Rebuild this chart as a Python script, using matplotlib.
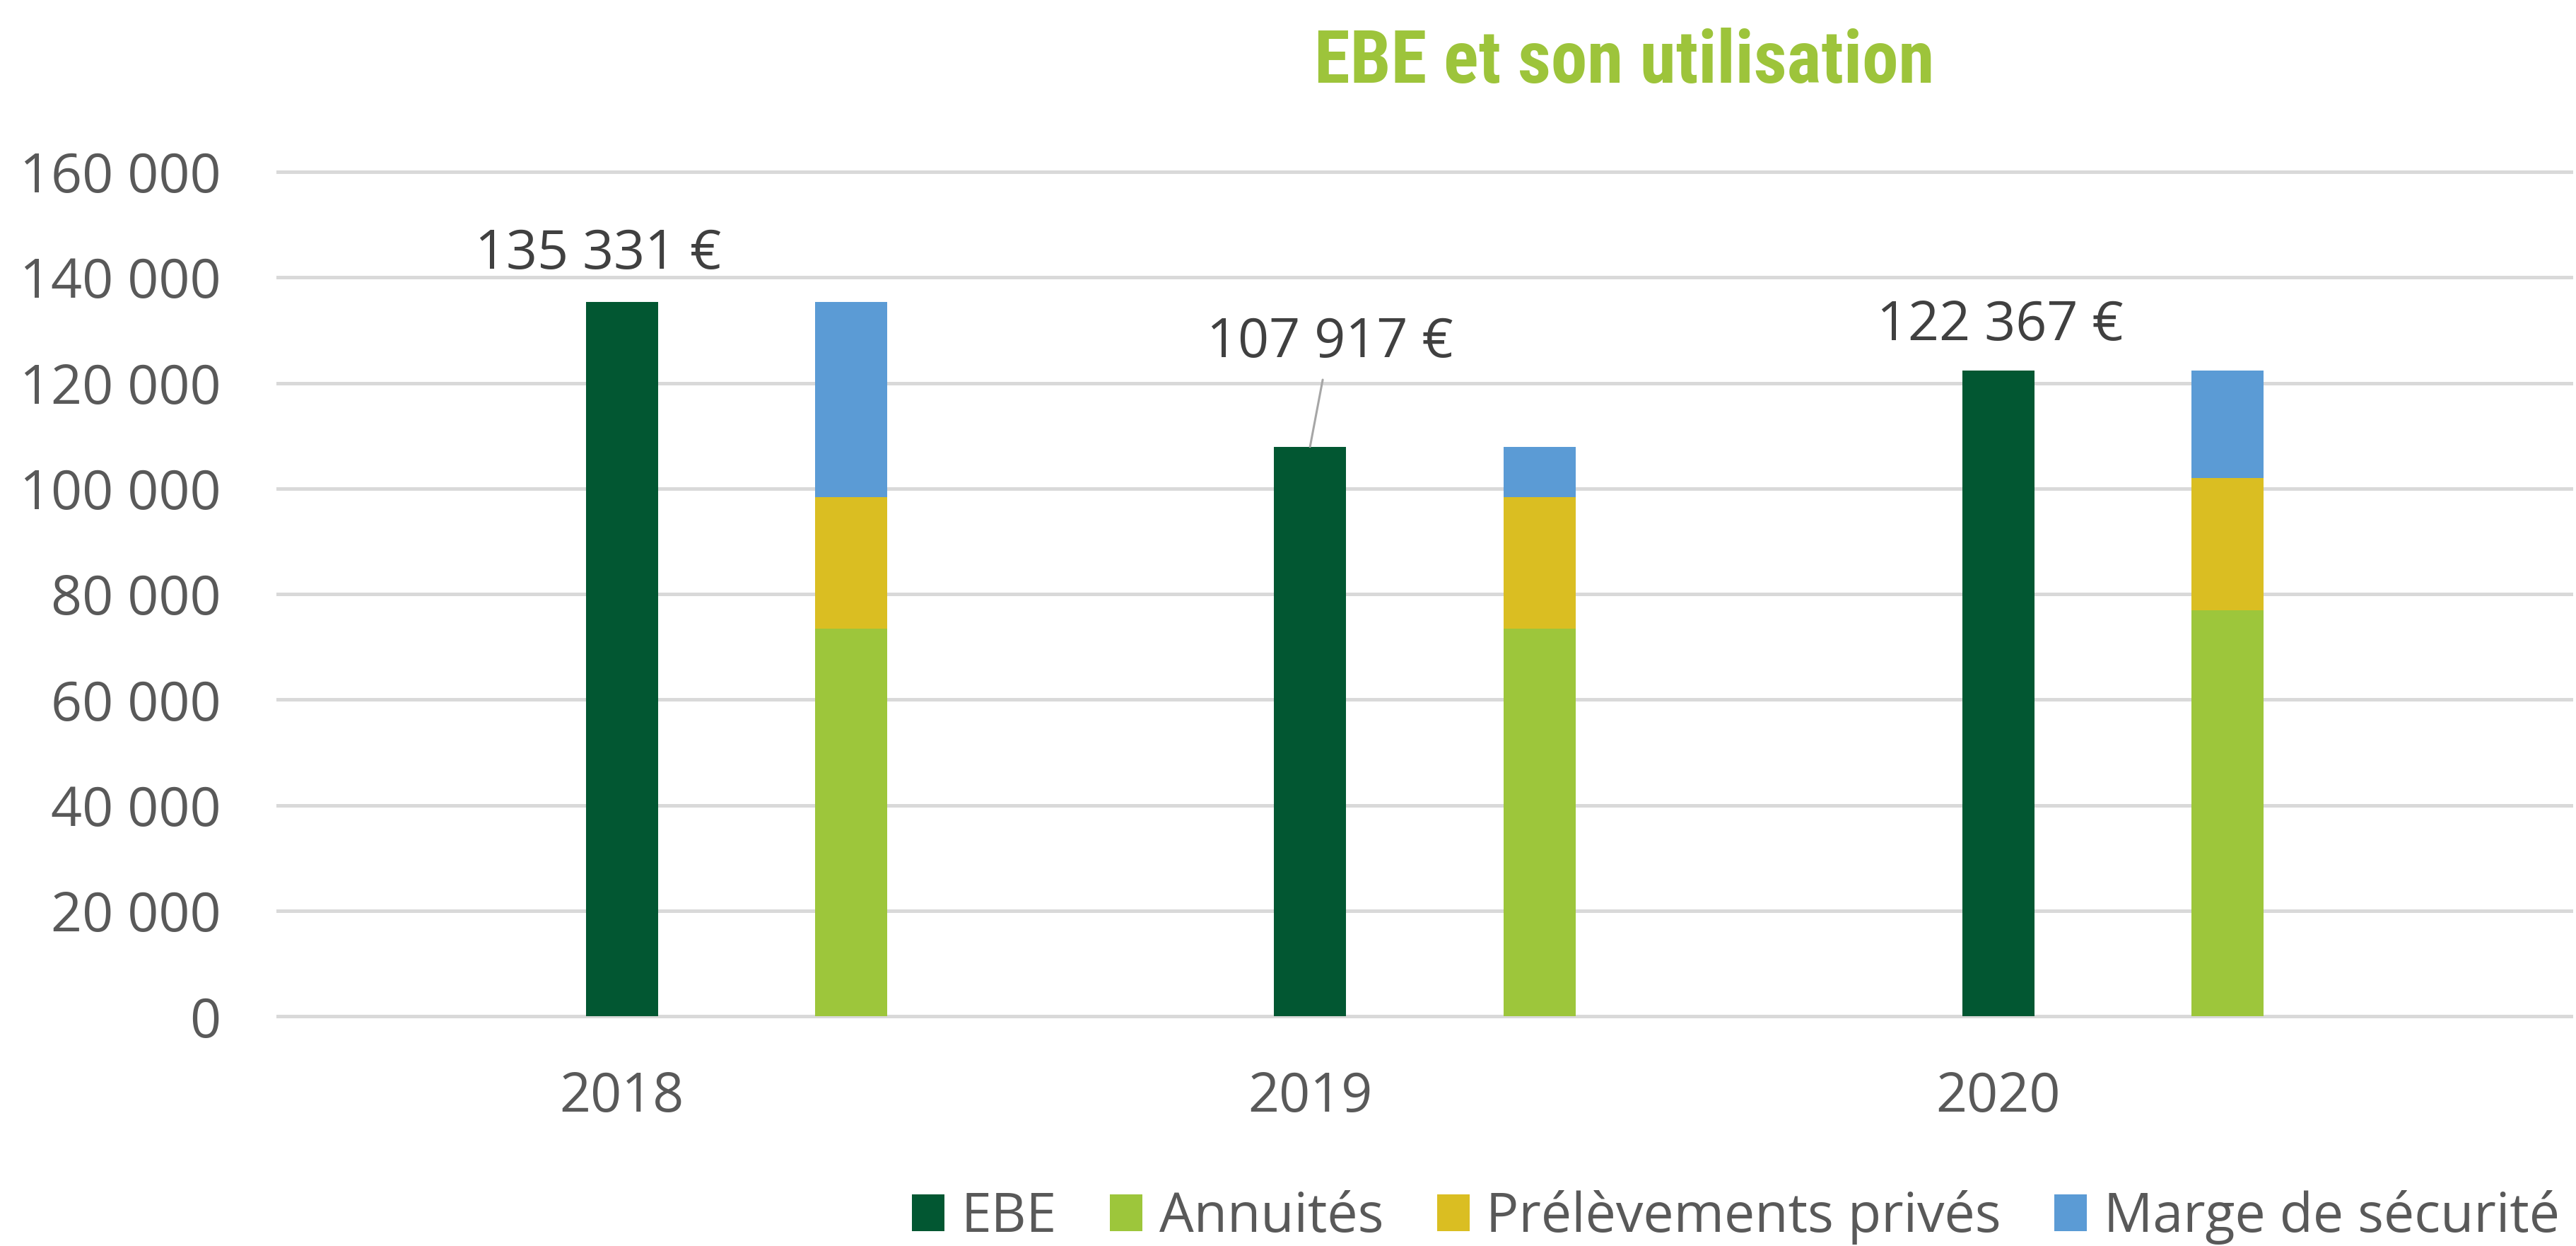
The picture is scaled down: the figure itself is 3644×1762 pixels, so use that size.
import matplotlib
matplotlib.use("Agg")
import matplotlib.pyplot as plt
import numpy as np
from matplotlib import font_manager as fm
from matplotlib.font_manager import FontProperties

# ---------------- data ----------------
years = ["2018", "2019", "2020"]
ebe = [135331, 107917, 122367]
annuites = [73400, 73400, 76950]
prelevements = [25000, 25000, 25000]
marge = [36931, 9517, 20417]
series_names = ["EBE", "Annuités", "Prélèvements privés", "Marge de sécurité"]
yticks = [0, 20000, 40000, 60000, 80000, 100000, 120000, 140000, 160000]
title = "EBE et son utilisation"

# ---------------- style ----------------
c_ebe = "#025732"
c_ann = "#9DC63B"
c_pre = "#DABE22"
c_mar = "#5B9BD5"
c_title = "#9DC43B"
c_tick = "#595959"
c_lab = "#404040"

W, H = 3644, 1762
plt.rcParams["font.family"] = ["Open Sans", "DejaVu Sans"]
FS = 55.5

fig = plt.figure(figsize=(W / 100, H / 100), dpi=100)
ax_left, ax_right, ax_top, ax_bot = 393, 3637, 242.9, 1437.3
ax = fig.add_axes([ax_left / W, 1 - ax_bot / H, (ax_right - ax_left) / W, (ax_bot - ax_top) / H])

x = np.arange(len(years))
bw = 0.1046
off = 0.3333
cat_px = 973.45

ann = np.array(annuites)
pre = np.array(prelevements)
mar = np.array(marge)

b_ebe = ax.bar(x, ebe, bw, color=c_ebe, zorder=3)
b_ann = ax.bar(x + off, ann, bw, color=c_ann, zorder=3)
b_pre = ax.bar(x + off, pre, bw, bottom=ann, color=c_pre, zorder=3)
b_mar = ax.bar(x + off, mar, bw, bottom=ann + pre, color=c_mar, zorder=3)

ax.set_xlim(-0.5, -0.5 + (ax_right - ax_left) / cat_px)
ax.set_ylim(0, 160000)
ax.set_yticks(yticks)
ax.set_yticklabels([f"{v:,}".replace(",", " ") for v in yticks])
ax.set_xticks(x)
ax.set_xticklabels(years)
ax.tick_params(length=0, labelsize=FS, colors=c_tick)
ax.tick_params(axis="y", pad=58)
ax.tick_params(axis="x", pad=55)
for s in ax.spines.values():
    s.set_visible(False)
ax.set_axisbelow(True)
ax.grid(axis="y", color="#D9D9D9", lw=3.6, zorder=0)
ax.grid(axis="x", visible=False)
for gl in ax.get_ygridlines():
    gl.set_clip_on(False)

# data labels on EBE bars
label_offsets = [(-24, 34), (20, 91), (2, 31)]
for i in range(len(years)):
    txt = f"{ebe[i]:,}".replace(",", " ") + " €"
    kw = {}
    if i == 1:
        kw["arrowprops"] = dict(arrowstyle="-", color="#A6A6A6", lw=2.2,
                                shrinkA=8, shrinkB=0)
    ax.annotate(txt, xy=(x[i], ebe[i]), xytext=label_offsets[i],
                textcoords="offset points", ha="center", va="baseline",
                fontsize=FS, color=c_lab, **kw)

# legend
leg = fig.legend(handles=[b_ebe, b_ann, b_pre, b_mar], labels=series_names,
                 ncol=4, loc="lower left", bbox_to_anchor=(1290 / W, 0.001),
                 frameon=False, fontsize=FS, handlelength=0.6, handleheight=0.65,
                 handletextpad=0.3, columnspacing=0.98, borderpad=0,
                 borderaxespad=0, labelcolor=c_tick)

# title font: bold condensed if available
def pick_title_font():
    entries = fm.fontManager.ttflist
    def wnum(w):
        if isinstance(w, (int, float)):
            return w
        return {"bold": 700, "heavy": 800, "black": 900, "extra bold": 800,
                "semibold": 600, "demibold": 600}.get(str(w).lower(), 400)
    prefs = ["Impact", "Anton", "Oswald", "Bebas Neue", "Roboto Condensed",
             "Open Sans Condensed", "DejaVu Sans", "Liberation Sans Narrow",
             "Noto Sans"]
    cands = [f for f in entries
             if str(f.stretch).lower() in ("condensed", "semi-condensed",
                                           "extra-condensed", "ultra-condensed")
             and wnum(f.weight) >= 700]
    for p in prefs:
        for f in cands:
            if f.name == p:
                return FontProperties(fname=f.fname)
    if cands:
        return FontProperties(fname=cands[0].fname)
    for f in entries:
        if f.name in ("Impact", "Anton", "Oswald"):
            return FontProperties(fname=f.fname)
    return FontProperties(family="Roboto", weight="black")

tp = pick_title_font()
tp.set_size(60)
t = fig.text(2298 / W, 1 - 117 / H, title, ha="center", va="baseline",
             color=c_title, fontproperties=tp)
fig.canvas.draw()
bb = t.get_window_extent()
t.set_fontsize(60 * 878 / bb.width)

fig.savefig("out.png", dpi=100)
